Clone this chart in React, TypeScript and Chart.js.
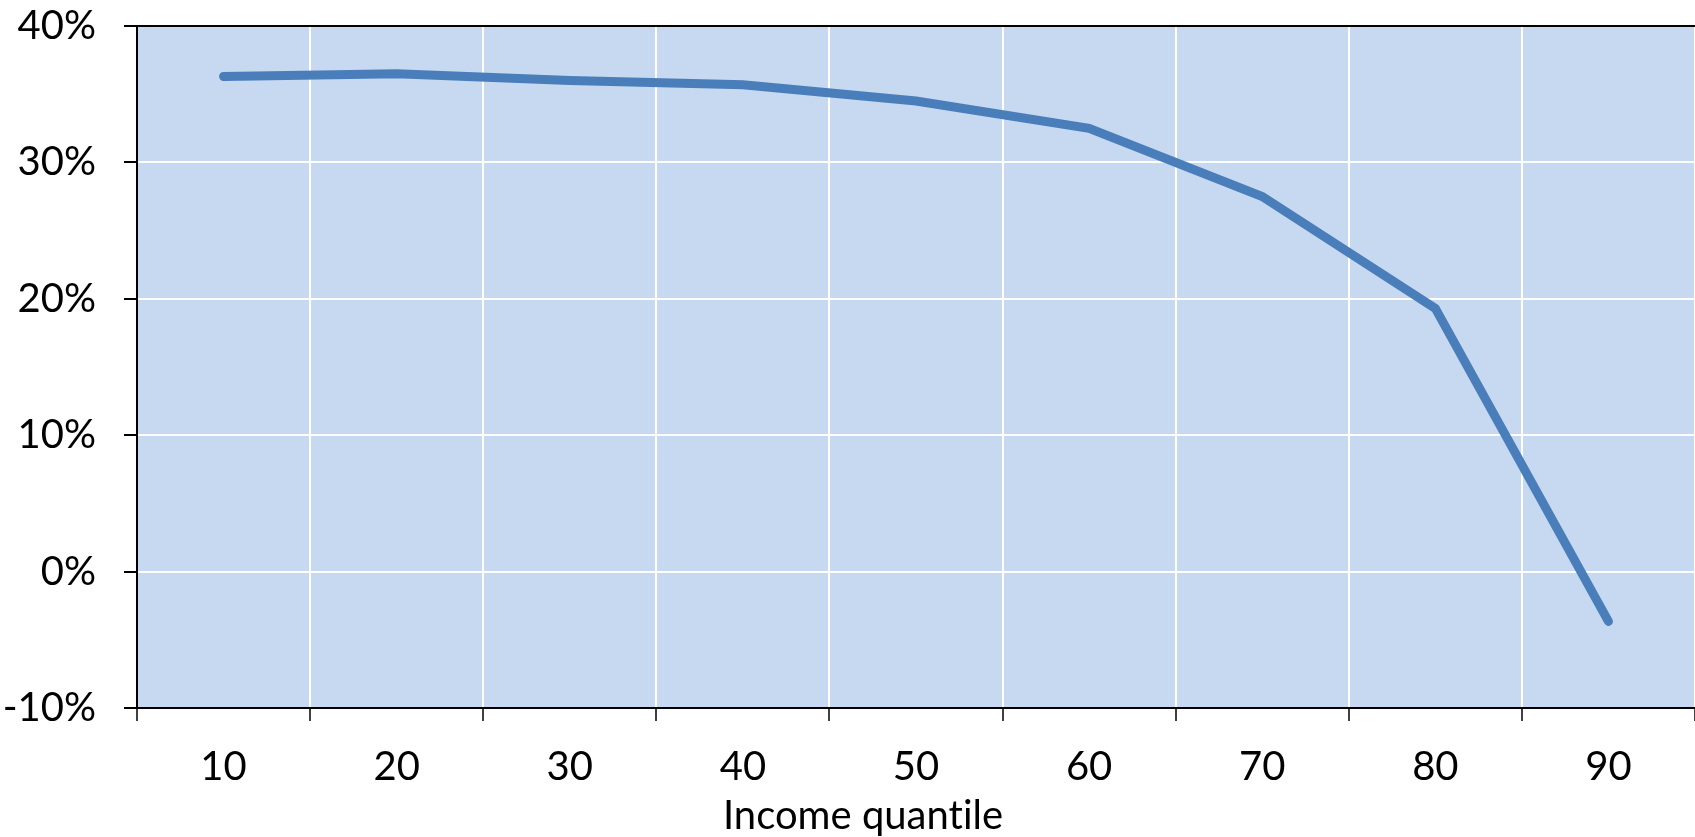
import React, { useEffect, useRef } from "react";
import { Chart, registerables } from "chart.js";

Chart.register(...registerables);

const categories = ["10", "20", "30", "40", "50", "60", "70", "80", "90"];
const shareValues = [36.3, 36.5, 36.0, 35.7, 34.5, 32.5, 27.5, 19.3, -3.65];
const yMin = -10;
const yMax = 40;
const yStep = 10;
const xTitle = "Income quantile";

const FONT = "Lato";
const FONT_SIZE = 40;

export default function App() {
  const ref = useRef<HTMLCanvasElement | null>(null);

  useEffect(() => {
    let chart: Chart | null = null;
    let cancelled = false;

    const bgPlugin = {
      id: "bgPlugin",
      beforeDraw(c: any) {
        const { ctx, chartArea } = c;
        ctx.save();
        ctx.fillStyle = "#C6D9F0";
        ctx.fillRect(chartArea.left, chartArea.top, chartArea.right - chartArea.left, chartArea.bottom - chartArea.top);
        ctx.restore();
      },
      afterDraw(c: any) {
        const { ctx, chartArea } = c;
        ctx.save();
        ctx.strokeStyle = "#000";
        ctx.lineWidth = 2;
        ctx.beginPath();
        ctx.moveTo(chartArea.left, chartArea.top);
        ctx.lineTo(chartArea.right, chartArea.top);
        ctx.stroke();
        ctx.fillStyle = "#000";
        ctx.font = `${FONT_SIZE}px ${FONT}`;
        try { (ctx as any).letterSpacing = "0.01px"; } catch (e) {}
        ctx.textAlign = "center";
        ctx.textBaseline = "alphabetic";
        ctx.fillText(xTitle, 863, 829);
        ctx.restore();
      },
    };

    const make = () => {
      if (cancelled || !ref.current) return;
      chart = new Chart(ref.current, {
        type: "line",
        data: {
          labels: categories,
          datasets: [
            {
              data: shareValues,
              borderColor: "#4A7EBB",
              backgroundColor: "#4A7EBB",
              borderWidth: 9,
              borderCapStyle: "round",
              borderJoinStyle: "miter",
              pointRadius: 0,
              pointHoverRadius: 0,
              tension: 0,
              fill: false,
            },
          ],
        },
        options: {
          responsive: false,
          animation: false,
          layout: { autoPadding: false, padding: { top: 26, left: 0, right: 0, bottom: 0 } },
          plugins: {
            legend: { display: false },
            tooltip: { enabled: false },
            title: { display: false },
          },
          scales: {
            x: {
              type: "category",
              offset: true,
              grid: {
                offset: true,
                color: "#FFFFFF",
                lineWidth: 2,
                tickColor: "#000000",
                tickLength: 13,
                tickWidth: 1.5,
                drawOnChartArea: true,
              },
              border: { display: true, color: "#000000", width: 2 },
              ticks: {
                color: "#000000",
                font: { family: FONT, size: FONT_SIZE },
                padding: 22,
                maxRotation: 0,
                autoSkip: false,
              },
              afterFit(scale: any) {
                scale.height = 129;
                scale.paddingLeft = 0;
                scale.paddingRight = 0;
              },
            },
            y: {
              min: yMin,
              max: yMax,
              grid: {
                color: "#FFFFFF",
                lineWidth: 2,
                tickColor: "#000000",
                tickLength: 13,
                tickWidth: 2,
              },
              border: { display: true, color: "#000000", width: 2 },
              ticks: {
                stepSize: yStep,
                color: "#000000",
                font: { family: FONT, size: FONT_SIZE },
                padding: 28,
                callback: (v: any) => `${v}%`,
              },
              afterFit(scale: any) {
                scale.width = 137;
                scale.paddingTop = 0;
                scale.paddingBottom = 0;
              },
            },
          },
        },
        plugins: [bgPlugin],
      } as any);
    };

    const fontsAny: any = (document as any).fonts;
    if (fontsAny && fontsAny.load) {
      fontsAny.load(`${FONT_SIZE}px ${FONT}`).then(make, make);
    } else {
      make();
    }

    return () => {
      cancelled = true;
      if (chart) chart.destroy();
    };
  }, []);

  return (
    <div style={{ position: "fixed", left: 0, top: 0, width: 1695, height: 837, background: "#fff" }}>
      <canvas ref={ref} width={1695} height={837} style={{ display: "block" }} />
    </div>
  );
}
